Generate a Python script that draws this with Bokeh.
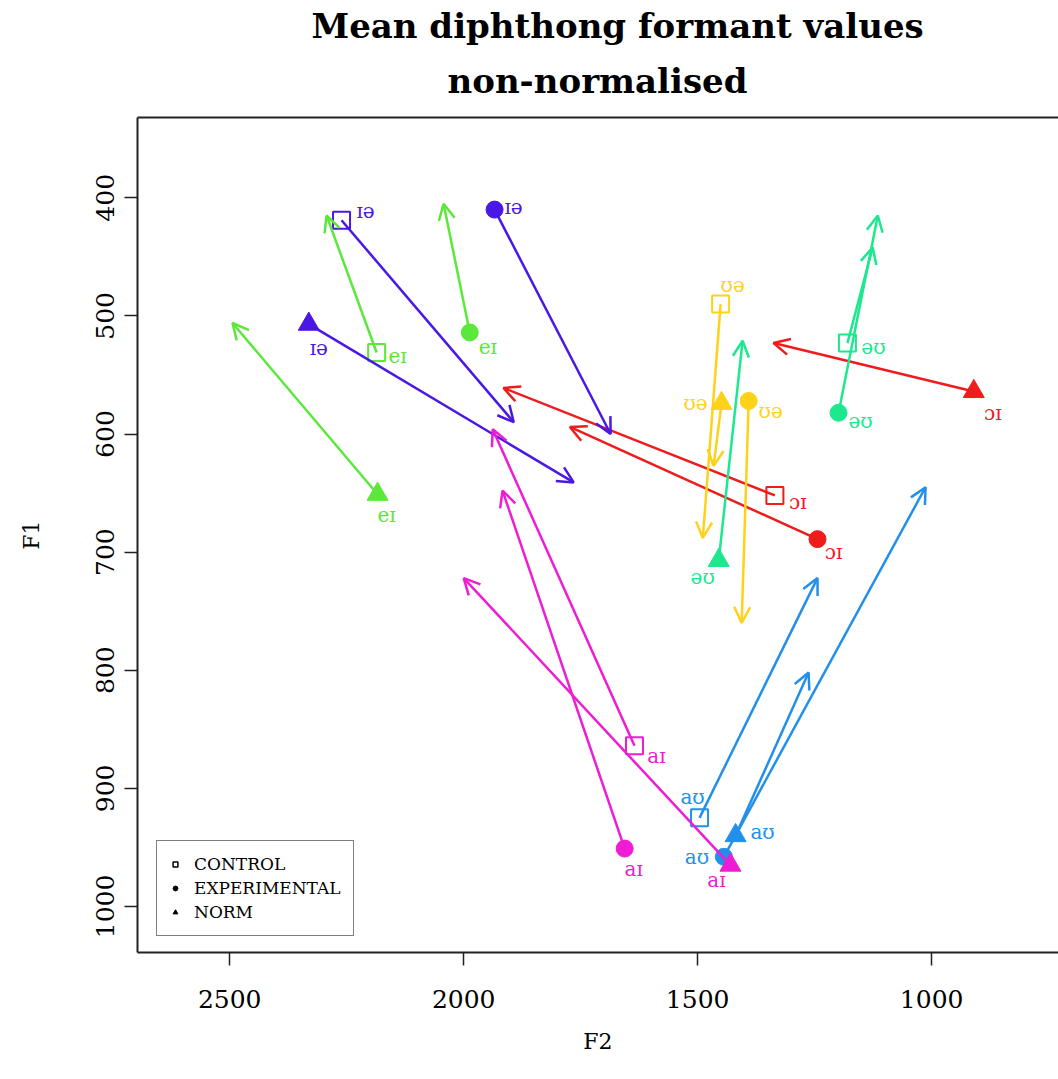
import math
from bokeh.plotting import figure
from bokeh.models import (Range1d, FixedTicker, LinearAxis, Arrow, OpenHead,
                          ColumnDataSource, Title, Legend, LegendItem)
from bokeh.embed import file_html
from bokeh.resources import INLINE
from bokeh.core.properties import value

# ---------------- data ----------------
diphthongs = ["ɔɪ", "ʊə", "eɪ", "əʊ", "aʊ", "ɪə", "aɪ"]
colors = ["#EE1C1C", "#FFD21A", "#5BE83A", "#1CE88E", "#2290EA", "#4A18E4", "#EE1CD2"]

# CONTROL (onset -> offset)
control_f2_on = [1335, 1451, 2186, 1180, 1496, 2261, 1635]
control_f1_on = [652, 490, 531, 523, 925, 419, 864]
control_f2_off = [1915, 1489, 2293, 1126, 1244, 1893, 1938]
control_f1_off = [561, 688, 415, 442, 722, 590, 596]

# EXPERIMENTAL
exp_f2_on = [1244, 1391, 1987, 1199, 1444, 1934, 1656]
exp_f1_on = [689, 572, 514, 582, 958, 410, 951]
exp_f2_off = [1773, 1406, 2043, 1115, 1013, 1686, 1917]
exp_f1_off = [594, 760, 405, 415, 645, 600, 648]

# NORM
norm_f2_on = [910, 1449, 2184, 1455, 1419, 2331, 1430]
norm_f1_on = [564, 574, 651, 707, 940, 507, 965]
norm_f2_off = [1338, 1466, 2494, 1404, 1263, 1765, 2000]
norm_f1_off = [523, 627, 506, 521, 802, 641, 722]

groups = ["CONTROL", "EXPERIMENTAL", "NORM"]
x_ticks = [1000, 1500, 2000, 2500]
y_ticks = [400, 500, 600, 700, 800, 900, 1000]
title_lines = ["Mean diphthong formant values", "non-normalised"]

# label offsets (screen px) per group, per diphthong  -- styling only
lab_dx = {"CONTROL": [23, 12, 21, 26, -7, 24, 22],
          "EXPERIMENTAL": [16, 22, 18, 22, -27, 19, 9],
          "NORM": [19, -26, 9, -16, 27, 10, -14]}
lab_dy = {"CONTROL": [7, -19, 3, 4, -21, -9, 10],
          "EXPERIMENTAL": [13, 10, 15, 8, 0, -3, 20],
          "NORM": [21, 0, 21, 17, -4, 24, 15]}

FONT = "DejaVu Serif"

p = figure(width=1058, height=1079, output_backend="svg", toolbar_location=None,
           x_range=Range1d(2697, 729), y_range=Range1d(1039, 332),
           title=None, min_border_left=137, min_border_right=0,
           min_border_top=117, min_border_bottom=127)
p.outline_line_color = None
p.grid.visible = False
p.background_fill_color = "white"

# axes
for ax in (p.xaxis[0], p.yaxis[0]):
    ax.axis_line_width = 2
    ax.axis_line_color = "#222222"
    ax.major_tick_line_width = 1.5
    ax.major_tick_line_color = "#222222"
    ax.major_tick_in = 0
    ax.major_tick_out = 13
    ax.minor_tick_out = 0
    ax.minor_tick_in = 0
    ax.major_label_text_font = FONT
    ax.major_label_text_font_size = "25px"
    ax.major_label_text_color = "black"
    ax.axis_label_text_font = FONT
    ax.axis_label_text_font_size = "22px"
    ax.axis_label_text_font_style = "normal"
    ax.axis_label_text_color = "black"

p.xaxis[0].ticker = FixedTicker(ticks=x_ticks)
p.yaxis[0].ticker = FixedTicker(ticks=y_ticks)
p.xaxis[0].axis_label = "F2"
p.yaxis[0].axis_label = "F1"
p.xaxis[0].major_label_standoff = 24
p.xaxis[0].axis_label_standoff = 18
p.yaxis[0].major_label_standoff = 10
p.yaxis[0].major_label_orientation = "parallel"
p.yaxis[0].axis_label_standoff = 50

top_axis = LinearAxis(ticker=FixedTicker(ticks=[]), axis_line_width=2,
                      axis_line_color="#222222", major_tick_out=0, major_tick_in=0,
                      minor_tick_out=0, minor_tick_in=0,
                      major_label_text_font_size="0px")
p.add_layout(top_axis, "above")

t2 = Title(text=title_lines[1], align="left", text_font=FONT, text_color="black",
           text_font_size="34px", text_font_style="bold", offset=310, standoff=34)
t1 = Title(text=title_lines[0], align="left", text_font=FONT, text_color="black",
           text_font_size="34px", text_font_style="bold", offset=174, standoff=-8)
p.add_layout(t2, "above")
p.add_layout(t1, "above")

# arrows, one per diphthong colour
all_groups = {
    "CONTROL": (control_f2_on, control_f1_on, control_f2_off, control_f1_off),
    "EXPERIMENTAL": (exp_f2_on, exp_f1_on, exp_f2_off, exp_f1_off),
    "NORM": (norm_f2_on, norm_f1_on, norm_f2_off, norm_f1_off),
}
for i, c in enumerate(colors):
    src = ColumnDataSource(dict(
        x0=[all_groups[g][0][i] for g in groups],
        y0=[all_groups[g][1][i] for g in groups],
        x1=[all_groups[g][2][i] for g in groups],
        y1=[all_groups[g][3][i] for g in groups]))
    arr = Arrow(end=OpenHead(size=16, line_color=c, line_width=2.5),
                x_start="x0", y_start="y0", x_end="x1", y_end="y1",
                source=src, line_color=c, line_width=2.5)
    p.add_layout(arr)

# markers
markers = {"CONTROL": "square", "EXPERIMENTAL": "circle", "NORM": "triangle"}
sizes = {"CONTROL": 17, "EXPERIMENTAL": 17, "NORM": 21}
for g in groups:
    f2_on, f1_on, _, _ = all_groups[g]
    src = ColumnDataSource(dict(x=f2_on, y=f1_on, color=colors,
                                label=diphthongs, dx=lab_dx[g], dy=lab_dy[g]))
    if g == "CONTROL":
        p.scatter("x", "y", source=src, marker="square", size=sizes[g],
                  fill_color=None, line_color="color", line_width=2)
    else:
        p.scatter("x", "y", source=src, marker=markers[g], size=sizes[g],
                  fill_color="color", line_color="color", line_width=1)
    p.text("x", "y", text="label", source=src, x_offset="dx", y_offset="dy",
           text_align="center", text_baseline="middle", text_color="color",
           text_font=value(FONT), text_font_size="20px")

# legend
nan = float("nan")
r_c = p.scatter([nan], [nan], marker="square", size=11, fill_color=None,
                line_color="black", line_width=1.5)
r_e = p.scatter([nan], [nan], marker="circle", size=10, fill_color="black",
                line_color="black")
r_n = p.scatter([nan], [nan], marker="triangle", size=12, fill_color="black",
                line_color="black")
legend = Legend(items=[LegendItem(label=groups[0], renderers=[r_c]),
                       LegendItem(label=groups[1], renderers=[r_e]),
                       LegendItem(label=groups[2], renderers=[r_n])],
                location=(19, 16), padding=12, spacing=2, margin=0,
                glyph_width=12, glyph_height=22, label_height=22,
                label_standoff=13, label_text_font=FONT,
                label_text_font_size="17px", label_text_color="black",
                border_line_color="black", border_line_width=1.5,
                background_fill_color="white", background_fill_alpha=1)
p.add_layout(legend)

open("out.html", "w").write(file_html(p, INLINE))
